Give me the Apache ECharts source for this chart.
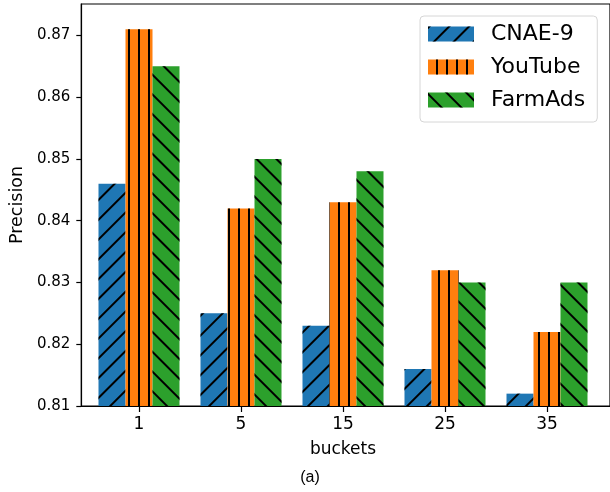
<!DOCTYPE html>
<html>
<head>
<meta charset="utf-8">
<script src="https://cdn.jsdelivr.net/npm/echarts@6/dist/echarts.min.js"></script>
<style>
  html, body { margin: 0; padding: 0; background: #fff; }
  #chart { width: 610px; height: 492px; }
</style>
</head>
<body>
<div id="chart"></div>
<script>
// Bucket counts on the x axis and precision per dataset
const buckets = ['1', '5', '15', '25', '35'];
const cnae9 = [0.846, 0.825, 0.823, 0.816, 0.812];
const youtube = [0.871, 0.842, 0.843, 0.832, 0.822];
const farmads = [0.865, 0.850, 0.848, 0.830, 0.830];
const yTicks = [0.81, 0.82, 0.83, 0.84, 0.85, 0.86, 0.87];

const Y_MIN = 0.81, Y_MAX = 0.8751;
const FONT = 'DejaVu Sans';
const PLOT_TOP = 4, PLOT_BOTTOM = 86;

// stripe patterns drawn over the bar fills
function stripes(rotation, gap) {
  return {
    symbol: 'rect',
    color: '#000',
    backgroundColor: null,
    dashArrayX: [1, 0],
    dashArrayY: [1.2, gap],
    rotation: rotation,
    symbolSize: 1
  };
}

function barSeries(name, data, color, decal) {
  return {
    name: name,
    type: 'bar',
    xAxisIndex: 0,
    yAxisIndex: 0,
    data: data,
    barWidth: 27,
    barGap: '0%',
    itemStyle: { color: color, decal: decal },
    emphasis: { disabled: true }
  };
}

const chart = echarts.init(document.getElementById('chart'), null, { renderer: 'canvas' });
chart.setOption({
  animation: false,
  backgroundColor: '#fff',
  grid: [
    // bar area: category bands 102px apart
    { left: 88, width: 510, top: PLOT_TOP, bottom: PLOT_BOTTOM },
    // outer frame of the axes
    { left: 73, right: -2, top: PLOT_TOP, bottom: PLOT_BOTTOM, show: true,
      borderColor: '#000', borderWidth: 1.2, backgroundColor: 'transparent' }
  ],
  xAxis: [
    {
      type: 'category', gridIndex: 0, data: buckets,
      axisLine: { show: false },
      axisTick: { show: true, alignWithLabel: true, length: 6, lineStyle: { color: '#000', width: 1.2 } },
      axisLabel: { color: '#000', fontFamily: FONT, fontSize: 17, margin: 10 },
      name: 'buckets', nameLocation: 'middle', nameGap: 35,
      nameTextStyle: { color: '#000', fontFamily: FONT, fontSize: 17 }
    },
    {
      type: 'value', gridIndex: 1, min: 0, max: 1,
      axisLine: { show: true, lineStyle: { color: '#000', width: 1.2 } },
      axisTick: { show: false }, axisLabel: { show: false }, splitLine: { show: false }
    }
  ],
  yAxis: [
    {
      type: 'value', gridIndex: 0, min: Y_MIN, max: Y_MAX,
      show: false, splitLine: { show: false }
    },
    {
      type: 'value', gridIndex: 1, min: Y_MIN, max: Y_MAX,
      axisLine: { show: true, lineStyle: { color: '#000', width: 1.2 } },
      axisTick: { show: true, length: 5, customValues: yTicks, lineStyle: { color: '#000', width: 1.2 } },
      axisLabel: { color: '#000', fontFamily: FONT, fontSize: 15, margin: 11, customValues: yTicks,
                   formatter: v => v.toFixed(2) },
      splitLine: { show: false },
      name: 'Precision', nameLocation: 'middle', nameGap: 49,
      nameTextStyle: { color: '#000', fontFamily: FONT, fontSize: 17.5 }
    }
  ],
  legend: {
    orient: 'vertical',
    left: 420, top: 16,
    padding: [7, 12, 11, 8],
    itemWidth: 46, itemHeight: 15, itemGap: 11,
    backgroundColor: 'rgba(255,255,255,0.8)',
    borderColor: '#d6d6d6', borderWidth: 1, borderRadius: 4,
    textStyle: { color: '#000', fontFamily: FONT, fontSize: 22, lineHeight: 22, padding: [0, 0, 0, 12] },
    icon: 'rect',
    selectedMode: false,
    data: ['CNAE-9', 'YouTube', 'FarmAds']
  },
  graphic: [
    { type: 'text', x: 310, y: 478,
      style: { text: '(a)', fontFamily: 'Liberation Sans', fontSize: 16, fill: '#000',
               align: 'center', verticalAlign: 'middle' } }
  ],
  series: [
    barSeries('CNAE-9', cnae9, '#1f77b4', stripes(-Math.PI / 4, 11.5)),
    barSeries('YouTube', youtube, '#ff7f0e', stripes(Math.PI / 2, 7.8)),
    barSeries('FarmAds', farmads, '#2ca02c', stripes(Math.PI / 4, 11.5))
  ]
});
</script>
</body>
</html>
